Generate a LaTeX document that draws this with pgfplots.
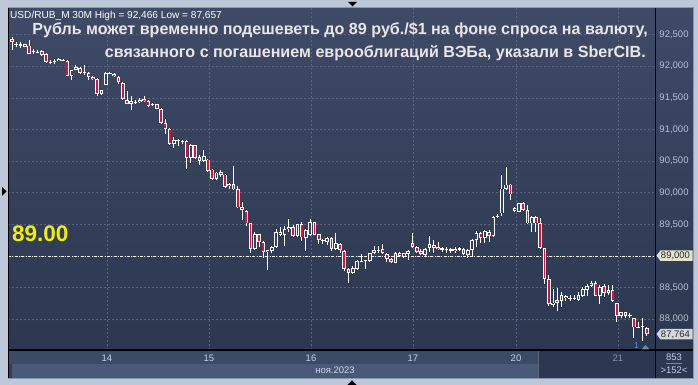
\documentclass[border=0pt]{standalone}
\usepackage{fontspec}
\setmainfont{Liberation Sans}
\usepackage{pgfplots}
\usepackage{pgfplotstable}
\pgfplotsset{compat=1.18}

\definecolor{framec}{RGB}{188,199,215}
\definecolor{plottop}{RGB}{62,74,102}
\definecolor{plotbot}{RGB}{44,55,80}
\definecolor{gridc}{RGB}{88,100,128}
\definecolor{strip1}{RGB}{60,74,102}
\definecolor{strip2}{RGB}{74,89,120}
\definecolor{stripdark}{RGB}{44,56,82}
\definecolor{labelc}{RGB}{180,192,212}
\definecolor{dayc}{RGB}{194,208,230}
\definecolor{daydim}{RGB}{130,146,176}
\definecolor{candlered}{RGB}{222,16,58}
\definecolor{hollow}{RGB}{54,66,92}
\definecolor{titlec}{RGB}{232,230,230}
\definecolor{yel}{RGB}{240,240,0}
\definecolor{boxbeige}{RGB}{228,228,206}
\definecolor{boxgray}{RGB}{212,216,220}
\definecolor{boxtext}{RGB}{40,40,40}
\definecolor{edgec}{RGB}{136,152,176}
\definecolor{blueone}{RGB}{80,150,225}
\definecolor{trigray}{RGB}{120,136,164}

% USD/RUB, 30-minute bars: index, open, high, low, close
\pgfplotstableread{
n o h l c
1 92.433 92.466 92.260 92.381
2 92.344 92.381 92.302 92.350
3 92.328 92.376 92.292 92.344
4 92.302 92.355 92.297 92.344
5 92.328 92.418 92.186 92.197
6 92.228 92.276 92.197 92.238
7 92.218 92.249 92.208 92.233
8 92.239 92.249 92.165 92.181
9 92.197 92.212 92.055 92.065
10 92.060 92.102 92.028 92.070
11 92.070 92.107 92.028 92.081
12 92.081 92.134 92.081 92.118
13 92.097 92.118 92.086 92.102
14 92.081 92.092 91.844 91.844
15 91.844 91.944 91.787 91.944
16 91.944 92.023 91.934 91.986
17 91.976 91.986 91.881 91.892
18 91.892 92.013 91.855 91.907
19 91.892 91.907 91.776 91.829
20 91.829 91.839 91.787 91.792
21 91.802 91.813 91.529 91.566
22 91.566 91.629 91.550 91.618
23 91.708 91.902 91.697 91.892
24 91.887 91.907 91.871 91.897
25 91.881 91.892 91.829 91.839
26 91.829 91.839 91.723 91.750
27 91.739 91.750 91.461 91.487
28 91.466 91.608 91.397 91.408
29 91.408 91.524 91.313 91.445
30 91.430 91.471 91.408 91.440
31 91.434 91.497 91.419 91.471
32 91.487 91.524 91.440 91.450
33 91.450 91.461 91.355 91.371
34 91.382 91.419 91.366 91.397
35 91.397 91.408 91.319 91.329
36 91.329 91.345 91.093 91.103
37 91.108 91.171 90.924 91.014
38 91.014 91.024 90.761 90.777
39 90.777 90.882 90.714 90.830
40 90.825 90.856 90.740 90.835
41 90.814 90.830 90.777 90.824
42 90.814 90.830 90.383 90.556
43 90.556 90.777 90.477 90.751
44 90.751 90.761 90.530 90.556
45 90.567 90.604 90.446 90.498
46 90.498 90.682 90.488 90.577
47 90.525 90.535 90.330 90.341
48 90.367 90.372 90.209 90.225
49 90.225 90.330 90.209 90.320
50 90.325 90.356 90.251 90.278
51 90.288 90.304 90.078 90.094
52 90.104 90.162 90.067 90.136
53 90.136 90.420 90.041 90.052
54 90.052 90.109 89.757 89.768
55 89.768 89.852 89.568 89.726
56 89.710 89.726 89.473 89.515
57 89.515 89.526 89.053 89.105
58 89.105 89.373 89.095 89.347
59 89.342 89.347 89.147 89.221
60 89.221 89.237 88.963 89.058
61 89.058 89.095 88.779 89.095
62 89.084 89.158 89.042 89.137
63 89.137 89.421 89.131 89.373
64 89.373 89.452 89.315 89.336
65 89.336 89.473 89.158 89.421
66 89.421 89.584 89.384 89.463
67 89.463 89.489 89.294 89.321
68 89.321 89.499 89.305 89.499
69 89.499 89.531 89.237 89.294
70 89.289 89.421 89.084 89.410
71 89.331 89.578 89.315 89.531
72 89.531 89.542 89.326 89.331
73 89.342 89.347 89.189 89.252
74 89.247 89.262 89.189 89.257
75 89.226 89.294 89.174 89.279
76 89.289 89.294 89.084 89.105
77 89.105 89.368 89.095 89.200
78 89.184 89.210 89.042 89.095
79 89.084 89.095 88.769 88.790
80 88.790 88.805 88.579 88.727
81 88.727 88.842 88.716 88.816
82 88.795 88.937 88.779 88.921
83 88.916 89.032 88.911 88.926
84 88.921 88.937 88.795 88.931
85 88.921 89.053 88.911 89.042
86 89.042 89.158 89.026 89.095
87 89.090 89.158 89.042 89.100
88 89.105 89.184 89.032 89.042
89 89.026 89.053 88.900 88.947
90 88.947 88.963 88.884 88.900
91 88.895 89.063 88.884 89.053
92 89.053 89.068 88.979 89.000
93 88.989 89.053 88.963 89.042
94 89.032 89.095 88.937 89.084
95 89.200 89.368 89.121 89.137
96 89.137 89.158 89.053 89.068
97 89.084 89.105 89.016 89.032
98 89.016 89.121 89.005 89.105
99 89.131 89.315 89.068 89.184
100 89.174 89.252 89.053 89.131
101 89.137 89.226 89.095 89.105
102 89.095 89.147 89.068 89.121
103 89.100 89.137 89.042 89.110
104 89.079 89.121 89.053 89.105
105 89.116 89.137 89.053 89.084
106 89.095 89.137 89.084 89.121
107 89.105 89.121 89.016 89.032
108 89.016 89.105 88.963 89.095
109 89.095 89.263 88.989 89.252
110 89.252 89.400 89.137 89.358
111 89.368 89.384 89.200 89.279
112 89.279 89.410 89.210 89.394
113 89.384 89.410 89.226 89.315
114 89.315 89.631 89.305 89.620
115 89.626 89.662 89.594 89.636
116 89.673 90.278 89.631 90.067
117 90.057 90.409 90.041 90.130
118 90.130 90.146 89.883 89.973
119 89.752 89.768 89.699 89.715
120 89.699 89.841 89.689 89.831
121 89.831 89.846 89.715 89.726
122 89.726 89.804 89.505 89.515
123 89.515 89.631 89.373 89.610
124 89.610 89.631 89.384 89.515
125 89.515 89.594 89.110 89.121
126 89.121 89.131 88.558 88.632
127 88.632 88.700 88.211 88.243
128 88.227 88.474 88.190 88.264
129 88.264 88.501 88.138 88.306
130 88.295 88.437 88.201 88.385
131 88.374 88.385 88.295 88.332
132 88.327 88.385 88.295 88.337
133 88.332 88.385 88.306 88.342
134 88.306 88.437 88.295 88.385
135 88.374 88.516 88.359 88.474
136 88.464 88.558 88.374 88.532
137 88.532 88.611 88.516 88.569
138 88.569 88.606 88.369 88.374
139 88.374 88.543 88.243 88.516
140 88.527 88.553 88.359 88.411
141 88.411 88.543 88.385 88.464
142 88.464 88.543 88.280 88.295
143 88.253 88.264 87.964 88.054
144 88.054 88.122 88.017 88.111
145 88.111 88.122 88.027 88.054
146 88.064 88.096 88.017 88.074
147 88.017 88.027 87.701 87.870
148 87.870 87.964 87.859 87.880
149 87.880 88.027 87.657 87.890
150 87.859 87.885 87.738 87.764
}\candles

% each bar part is a vertical error bar starting at the plotted y value
\pgfplotsset{
  candle bar/.style={draw=none, mark=none,
    error bars/.cd, y dir=plus, y explicit, error mark=none,
    error bar style={solid, #1}},
}

\begin{document}
\begin{tikzpicture}
\useasboundingbox (0,0) rectangle (698bp,385bp);

% terminal window background (pixel-like coordinates, y downwards)
\begin{scope}[x=1bp,y=-1bp,yshift=385bp]
  \fill[framec] (0,0) rectangle (698,385);
  \shade[top color=plottop, bottom color=plotbot] (8,8) rectangle (693,350);
  \fill[strip1] (8,350) rectangle (655,364);
  \fill[stripdark!80!strip2] (8,364) rectangle (12,378);
  \fill[strip2] (12,364) rectangle (655,378);
  \fill[stripdark] (538,350) rectangle (655,378);
  \draw[gridc, line width=0.6bp] (538.5,350) -- (538.5,378);
  \fill[stripdark] (655,350) rectangle (693,378);
\end{scope}

\begin{axis}[
  at={(8bp,35bp)}, anchor=south west,
  scale only axis, width=647bp, height=342bp,
  xmin=0.061, xmax=151.94, ymin=87.514, ymax=92.921,
  axis line style={draw=none},
  major tick length=0pt,
  grid=major,
  major grid style={gridc, dash pattern=on 2bp off 2bp, line width=0.6bp},
  xtick={23.30,47.24,71.19,95.13,119.31,143.25},
  xticklabels={14,15,16,17,20,\textcolor{daydim}{21}},
  ytick={88,88.5,89,89.5,90,90.5,91,91.5,92,92.5},
  yticklabels={{88,000},{88,500},{89,000},{89,500},{90,000},{90,500},{91,000},{91,500},{92,000},{92,500}},
  yticklabel pos=right,
  tick label style={font=\fontsize{9.5bp}{11bp}\selectfont},
  yticklabel style={anchor=center, xshift=19bp, text=labelc},
  xticklabel style={anchor=center, yshift=-8bp, text=dayc},
]
  % 89,000 level
  \draw[white!88!gray, line width=0.8bp, dash pattern=on 3bp off 1.3bp on 1bp off 1.3bp]
    (axis cs:0.061,89) -- (axis cs:151.94,89);
  % wicks
  \addplot[candle bar={line width=1bp, draw=white}]
    table[x=n, y=l, y error plus expr=\thisrow{h}-\thisrow{l}] {\candles};
  % bodies: white outline
  \addplot[candle bar={line width=3.6bp, draw=white}]
    table[x=n, y expr={min(\thisrow{o},\thisrow{c})},
          y error plus expr={abs(\thisrow{o}-\thisrow{c})}] {\candles};
  % falling bars: red fill
  \addplot[candle bar={line width=1.8bp, draw=candlered}]
    table[x=n, y expr={\thisrow{c}+0.0142},
          y error plus expr={max(\thisrow{o}-\thisrow{c}-0.0284,0)}] {\candles};
  % rising bars: hollow
  \addplot[candle bar={line width=1.8bp, draw=hollow}]
    table[x=n, y expr={\thisrow{o}+0.0142},
          y error plus expr={max(\thisrow{c}-\thisrow{o}-0.0284,0)}] {\candles};
\end{axis}

\begin{scope}[x=1bp,y=-1bp,yshift=385bp]
  % window edges
  \draw[edgec, line width=1bp] (8,7.5) -- (693.5,7.5) -- (693.5,378.5) -- (8,378.5);
  \draw[black, line width=1bp] (8,8) -- (8,378);
  \draw[black, line width=1.2bp] (8,350) -- (693,350);
  \draw[black, line width=1bp] (655,8) -- (655,378);

  % price tags
  \fill[boxbeige] (656.5,255.5) -- (660.5,250.5) -- (692.5,250.5) -- (692.5,261) -- (660.5,261) -- cycle;
  \node[text=boxtext, font=\fontsize{9.5bp}{11bp}\selectfont, inner sep=0] at (675.5,255.8) {89,000};
  \fill[boxgray] (656.5,334) -- (660.5,329) -- (692.5,329) -- (692.5,339.5) -- (660.5,339.5) -- cycle;
  \node[text=boxtext, font=\fontsize{9.5bp}{11bp}\selectfont, inner sep=0] at (675.5,334.3) {87,764};

  % bar counters
  \node[text=dayc, font=\fontsize{9.5bp}{11bp}\selectfont, inner sep=0] at (674,357.5) {853};
  \draw[trigray, line width=0.6bp] (666,363) -- (682,363);
  \node[text=dayc, font=\fontsize{9.5bp}{11bp}\selectfont, inner sep=0] at (674,370.5) {>152<};
  \node[text=dayc!90!white, font=\fontsize{9.5bp}{11bp}\selectfont, inner sep=0] at (335,370.5) {ноя.2023};

  % markers
  \node[text=blueone, font=\fontsize{8.5bp}{10bp}\selectfont, inner sep=0] at (636.5,346) {1};
  \fill[trigray] (641.5,349.5) -- (649.5,349.5) -- (645.5,345) -- cycle;
  \fill[black] (348,2) -- (357,2) -- (352.5,6.5) -- cycle;
  \fill[black] (2,187) -- (6.5,191.5) -- (2,196) -- cycle;
  \fill[black] (347.5,385) -- (356.5,385) -- (352,380.5) -- cycle;

  % header and headline
  \node[anchor=base west, inner sep=0, text=white, font=\fontsize{10.1bp}{12bp}\selectfont]
    at (10,18.5) {USD/RUB\_M 30M High = 92,466 Low = 87,657};
  \node[anchor=base east, inner sep=0, text=titlec, font=\bfseries\fontsize{16.1bp}{19bp}\selectfont]
    at (648,35) {Рубль может временно подешеветь до 89 руб./\$1 на фоне спроса на валюту,};
  \node[anchor=base east, inner sep=0, text=titlec, font=\bfseries\fontsize{16.1bp}{19bp}\selectfont]
    at (646,57.5) {связанного с погашением еврооблигаций ВЭБа, указали в SberCIB.};
  \node[anchor=base west, inner sep=0, text=yel, font=\bfseries\fontsize{22.5bp}{24bp}\selectfont]
    at (12,241.7) {89.00};
\end{scope}
\end{tikzpicture}
\end{document}
